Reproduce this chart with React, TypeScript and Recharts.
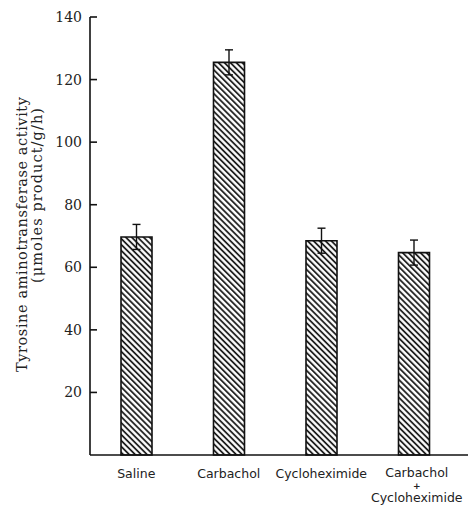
import React from 'react';
import { BarChart, Bar, XAxis, YAxis, ErrorBar } from 'recharts';

const categories = ['Saline', 'Carbachol', 'Cycloheximide', 'Carbachol + Cycloheximide'];
const activity = [69.7, 125.5, 68.5, 64.7];
const sem = [4, 4, 4, 4];
const yTicks = [20, 40, 60, 80, 100, 120, 140];
const yLabelLine1 = 'Tyrosine aminotransferase activity';
const yLabelLine2 = '(\u03bcmoles product/g/h)';

const data = categories.map((c, i) => ({ name: c, value: activity[i], err: sem[i] }));

const YTick = (props: any) => {
  const { x, y, payload } = props;
  return (
    <g>
      <line x1={x + 8} y1={y} x2={x + 15} y2={y} stroke="#111" strokeWidth={1.6} />
      <text x={x} y={y} dy={5} textAnchor="end" fontFamily="DejaVu Serif" fontSize={14} fill="#222">
        {payload.value}
      </text>
    </g>
  );
};

const XTick = (props: any) => {
  const { x, payload } = props;
  const parts: string[] = String(payload.value).split(' + ');
  const multi = parts.length > 1;
  const offs = multi ? 3 : 0;
  if (!multi) {
    return (
      <text x={x} y={478} textAnchor="middle" fontFamily="DejaVu Sans" fontSize={12.5} fill="#222">
        {parts[0]}
      </text>
    );
  }
  return (
    <g>
      <text x={x + offs} y={477} textAnchor="middle" fontFamily="DejaVu Sans" fontSize={12.5} fill="#222">
        {parts[0]}
      </text>
      <text x={x + offs} y={489} textAnchor="middle" fontFamily="DejaVu Sans" fontSize={9} fontWeight="bold" fill="#222">
        +
      </text>
      <text x={x + offs} y={502} textAnchor="middle" fontFamily="DejaVu Sans" fontSize={12.5} fill="#222">
        {parts[1]}
      </text>
    </g>
  );
};

const YLabel = () => (
  <g fontFamily="DejaVu Serif" fontSize={14.5} fill="#222">
    <text
      x={27}
      y={234.5}
      textAnchor="middle"
      transform="rotate(-90, 27, 234.5)"
      textLength={275}
      lengthAdjust="spacing"
    >
      {yLabelLine1}
    </text>
    <text
      x={42}
      y={195.5}
      textAnchor="middle"
      transform="rotate(-90, 42, 195.5)"
      textLength={175}
      lengthAdjust="spacing"
    >
      {yLabelLine2}
    </text>
  </g>
);

export default function App() {
  return (
    <div style={{ position: 'absolute', left: 0, top: 0, background: '#fff' }}>
      <BarChart width={468} height={507} data={data} margin={{ top: 17, right: 0, bottom: 0, left: 0 }}>
        <defs>
          <pattern id="hatch" patternUnits="userSpaceOnUse" width={4.2} height={4.2} patternTransform="rotate(-45)">
            <rect width={4.2} height={4.2} fill="#fff" />
            <line x1={1} y1={0} x2={1} y2={4.2} stroke="#111" strokeWidth={1.7} />
          </pattern>
        </defs>
        <XAxis
          dataKey="name"
          height={52}
          axisLine={{ stroke: '#111', strokeWidth: 1.6 }}
          tickLine={false}
          tickSize={0}
          tick={<XTick />}
          interval={0}
          padding={{ left: 0, right: 8 }}
        />
        <YAxis
          width={90}
          domain={[0, 140]}
          ticks={yTicks}
          axisLine={{ stroke: '#111', strokeWidth: 1.6 }}
          tickLine={false}
          tickSize={0}
          tickMargin={8}
          tick={<YTick />}
          label={<YLabel />}
        />
        <Bar dataKey="value" barSize={31} fill="url(#hatch)" stroke="#111" strokeWidth={1.6} isAnimationActive={false}>
          <ErrorBar dataKey="err" width={4} stroke="#111" strokeWidth={1.4} direction="y" />
        </Bar>
      </BarChart>
    </div>
  );
}
